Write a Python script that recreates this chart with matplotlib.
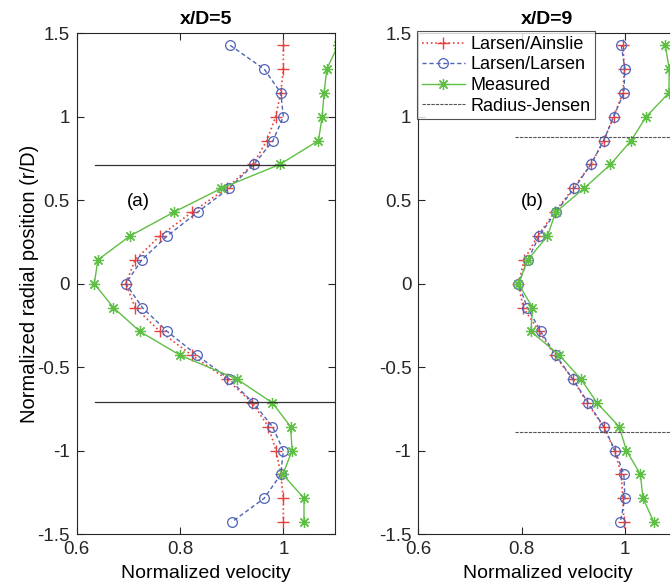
import numpy as np
import matplotlib
matplotlib.use("Agg")
import matplotlib.pyplot as plt

plt.rcParams['font.family'] = ['Liberation Sans', 'DejaVu Sans']

# radial positions (r/D)
r = [10/7, 9/7, 8/7, 1.0, 6/7, 5/7, 4/7, 3/7, 2/7, 1/7, 0.0,
     -1/7, -2/7, -3/7, -4/7, -5/7, -6/7, -1.0, -8/7, -9/7, -10/7]

# (a) x/D = 5
a_ainslie = [1.0, 1.0, 0.995, 0.985, 0.968, 0.941, 0.89, 0.823, 0.761, 0.713, 0.695,
             0.713, 0.761, 0.823, 0.89, 0.94, 0.971, 0.986, 0.995, 1.0, 1.0]
a_larsen = [0.897, 0.963, 0.995, 1.0, 0.98, 0.943, 0.895, 0.834, 0.775, 0.726, 0.695,
            0.727, 0.775, 0.833, 0.895, 0.942, 0.979, 1.0, 0.995, 0.963, 0.9]
a_measured = [1.106, 1.084, 1.079, 1.075, 1.068, 0.993, 0.88, 0.788, 0.703, 0.641, 0.634,
              0.671, 0.722, 0.8, 0.91, 0.979, 1.014, 1.017, 0.999, 1.04, 1.04]
a_jensen_r = [0.71, -0.71]
a_jensen_x = [0.635, 1.1]

# (b) x/D = 9
b_ainslie = [0.996, 0.999, 0.996, 0.978, 0.959, 0.934, 0.9, 0.864, 0.831, 0.805, 0.794,
             0.803, 0.834, 0.864, 0.899, 0.927, 0.959, 0.98, 0.993, 0.996, 0.998]
b_larsen = [0.993, 1.0, 0.998, 0.978, 0.959, 0.934, 0.902, 0.866, 0.834, 0.812, 0.794,
            0.811, 0.837, 0.866, 0.899, 0.929, 0.959, 0.981, 0.998, 1.0, 0.991]
b_measured = [1.078, 1.086, 1.085, 1.041, 1.012, 0.972, 0.921, 0.866, 0.85, 0.812, 0.794,
              0.821, 0.818, 0.873, 0.915, 0.946, 0.989, 1.003, 1.03, 1.035, 1.056]
b_jensen_r = [0.88, -0.886]
b_jensen_x = [0.788, 1.2]

titles = ['x/D=5', 'x/D=9']
panel_labels = ['(a)', '(b)']
label_pos = [(0.719, 0.49), (0.821, 0.49)]

red = '#e8413c'
blue = '#4f63b5'
green = '#5fbf45'

fig = plt.figure(figsize=(6.7, 5.88), dpi=100)
ax1 = fig.add_axes([0.1145, 0.0918, 0.3855, 0.8515])
ax2 = fig.add_axes([0.6243, 0.0918, 0.3855, 0.8515])

data = [(a_ainslie, a_larsen, a_measured, a_jensen_r, a_jensen_x),
        (b_ainslie, b_larsen, b_measured, b_jensen_r, b_jensen_x)]

for i, (ax, (ain, lar, mea, jr, jx)) in enumerate(zip([ax1, ax2], data)):
    ax.plot(ain, r, linestyle=':', color=red, marker='+', markersize=8,
            markeredgewidth=1.0, linewidth=1.2, label='Larsen/Ainslie')
    ax.plot(lar, r, linestyle='--', color=blue, marker='o', markersize=7,
            markerfacecolor='none', markeredgewidth=0.9, linewidth=1.0,
            dashes=(3, 2), label='Larsen/Larsen')
    ax.plot(mea, r, linestyle='-', color=green, marker=(8, 2, 0), markersize=8,
            markeredgewidth=0.9, linewidth=1.0, label='Measured')
    for k, yy in enumerate(jr):
        ax.plot(jx, [yy, yy], color='#333333' if i == 0 else '#555555',
                linewidth=0.9 if i == 0 else 0.8,
                linestyle=(0, (3, 1)) if i == 1 else '-',
                label='Radius-Jensen' if k == 0 else None)
    ax.set_xlim(0.6, 1.1)
    ax.set_ylim(-1.5, 1.5)
    ax.set_xticks([0.6, 0.8, 1.0])
    ax.set_xticklabels(['0.6', '0.8', '1'])
    ax.set_yticks([-1.5, -1, -0.5, 0, 0.5, 1, 1.5])
    ax.set_yticklabels(['-1.5', '-1', '-0.5', '0', '0.5', '1', '1.5'])
    ax.tick_params(direction='in', top=True, right=True, labelsize=13.5,
                   length=5, width=0.8, colors='#262626', pad=5)
    for s in ax.spines.values():
        s.set_color('#262626')
        s.set_linewidth(0.8)
    ax.set_title(titles[i], fontsize=14, fontweight='bold', pad=7)
    ax.set_xlabel('Normalized velocity', fontsize=14, labelpad=5)
    ax.text(label_pos[i][0], label_pos[i][1], panel_labels[i], fontsize=13.5,
            ha='center', va='center')

ax1.set_ylabel('Normalized radial position (r/D)', fontsize=14.5, labelpad=-1)

leg = ax2.legend(loc='upper left', fontsize=13, frameon=True, fancybox=False,
                 bbox_to_anchor=(-0.005, 1.004),
                 borderaxespad=0.0, handlelength=2.4, handletextpad=0.3,
                 labelspacing=0.2, borderpad=0.25)
leg.get_frame().set_edgecolor('#262626')
leg.get_frame().set_linewidth(0.8)

fig.savefig('out.png', dpi=100)
